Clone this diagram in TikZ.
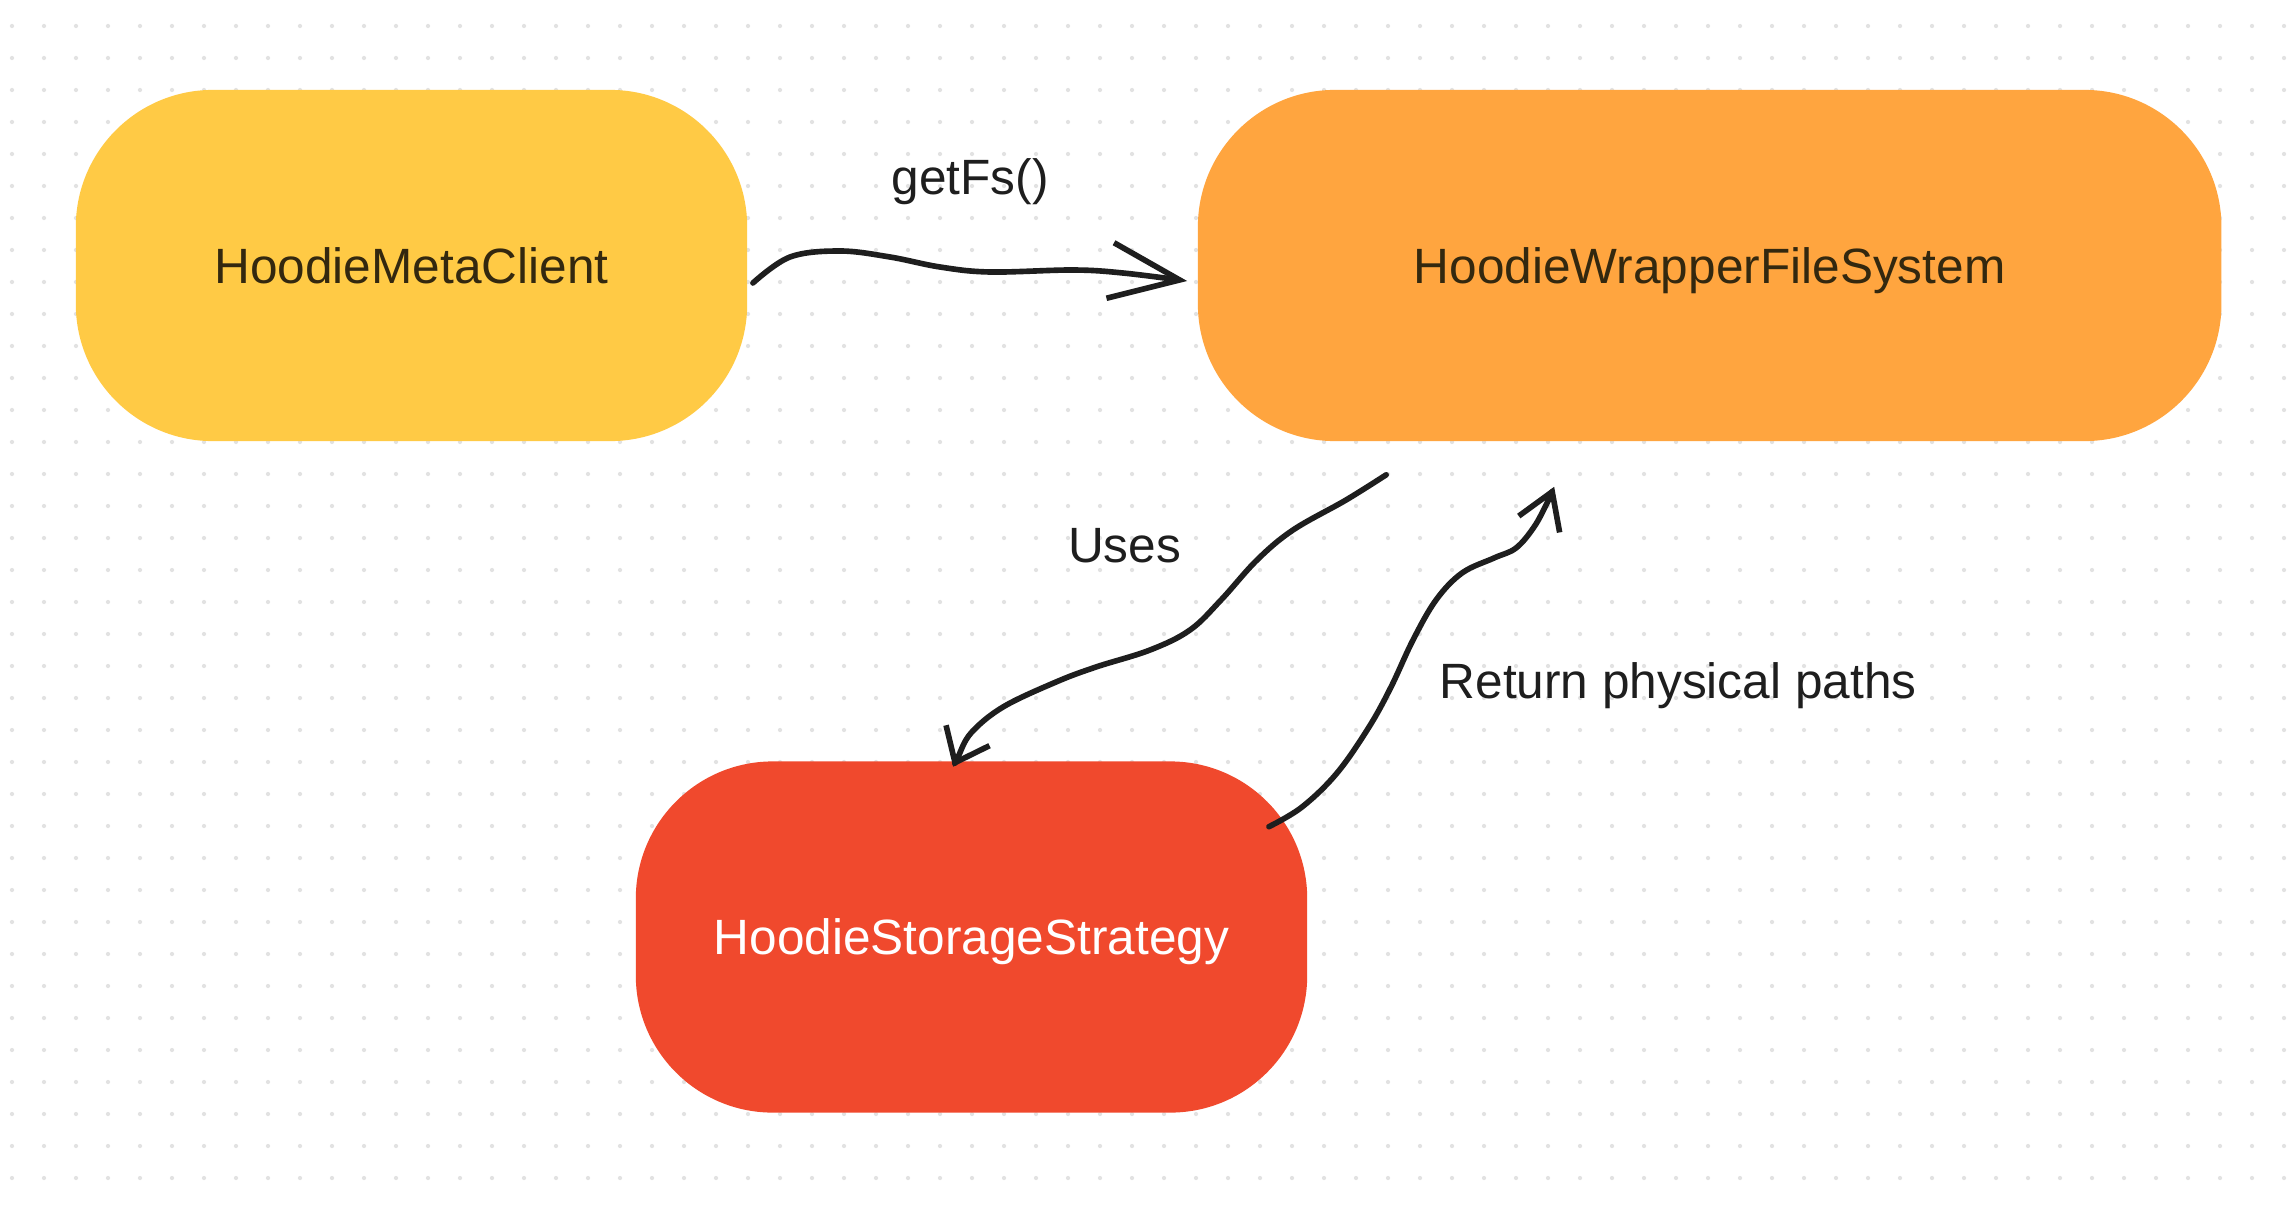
\documentclass[tikz,border=0pt]{standalone}
\usepackage{fontspec}
\setmainfont{Liberation Sans}
\usepackage{tikz}
\usetikzlibrary{arrows.meta, calc, positioning}
\definecolor{metayellow}{HTML}{FFCA45}
\definecolor{wrapperorange}{HTML}{FFA53F}
\definecolor{strategyred}{HTML}{F0492D}
\definecolor{boxtext}{HTML}{33280F}
\definecolor{ink}{HTML}{1E1E1E}
\definecolor{griddot}{HTML}{E2E2E2}

\begin{document}
\begin{tikzpicture}[x=0.01cm,y=-0.01cm,font=\fontsize{14.1pt}{17pt}\selectfont]
  \tikzstyle{box}=[rectangle,rounded corners=1.37cm,minimum width=6.71cm,
    minimum height=3.51cm,inner sep=0pt,text height=10.1pt,text depth=0pt]
  \tikzstyle{lbl}=[text=ink,inner sep=0pt,text height=10.1pt,text depth=0pt]
  \tikzstyle{conn}=[draw=ink,line width=1.6pt,line cap=round,line join=round]

  \useasboundingbox[fill=white] (0,0) rectangle (2288,1206);
  % dotted canvas
  \foreach \i in {0,...,71}
    \foreach \j in {0,...,36}
      \fill[griddot] (12+32*\i,26+32*\j) circle[radius=0.6pt];

  \node[box,fill=metayellow,text=boxtext]    (meta)                        at (411.5,265.5) {HoodieMetaClient};
  \node[box,fill=wrapperorange,text=boxtext,minimum width=10.23cm]
                                             (wrapper) [right=4.49cm of meta] {HoodieWrapperFileSystem};
  \node[box,fill=strategyred,text=white]     (strategy)                    at (971.5,937)   {HoodieStorageStrategy};

  \node[lbl] (getfs) at (970,176.5)          {getFs()};
  \node[lbl] (uses)  at (1124.5,545)         {Uses};
  \node[lbl,anchor=west] (ret) at (1439,681) {Return physical paths};

  % connector ends
  \coordinate (g0) at ($(meta.east)+(5,17.5)$);
  \coordinate (g1) at ($(wrapper.west)+(-10,15.5)$);
  \coordinate (u0) at ($(wrapper.south west)+(189,33)$);
  \coordinate (u1) at ($(strategy.north west)+(318,6)$);
  \coordinate (r0) at ($(strategy.north east)+(-39,66)$);
  \coordinate (r1) at ($(wrapper.south west)+(357,45)$);

  \draw[conn,-{Straight Barb[length=0.7cm,width=0.56cm]}]
    plot[smooth,tension=0.6] coordinates {(g0) (790,257) (840,251) (890,257)
      (940,267) (990,272) (1073,270) (1123,273) (g1)};
  \draw[conn,-{Straight Barb[length=0.3cm,width=0.48cm]}]
    plot[smooth,tension=0.6] coordinates {(u0) (1346,500) (1293,530) (1257,560)
      (1221,600) (1190,630) (1150,650) (1096,667) (1056,682) (1003,707) (971,733)
      (958,757) (u1)};
  \draw[conn,-{Straight Barb[length=0.35cm,width=0.44cm]}]
    plot[smooth,tension=0.6] coordinates {(r0) (1302,807) (1337,773) (1369,727)
      (1391,687) (1413,640) (1436,600) (1462,573) (1494,558) (1516,548)
      (1534,527) (1547,503) (r1)};
\end{tikzpicture}
\end{document}
